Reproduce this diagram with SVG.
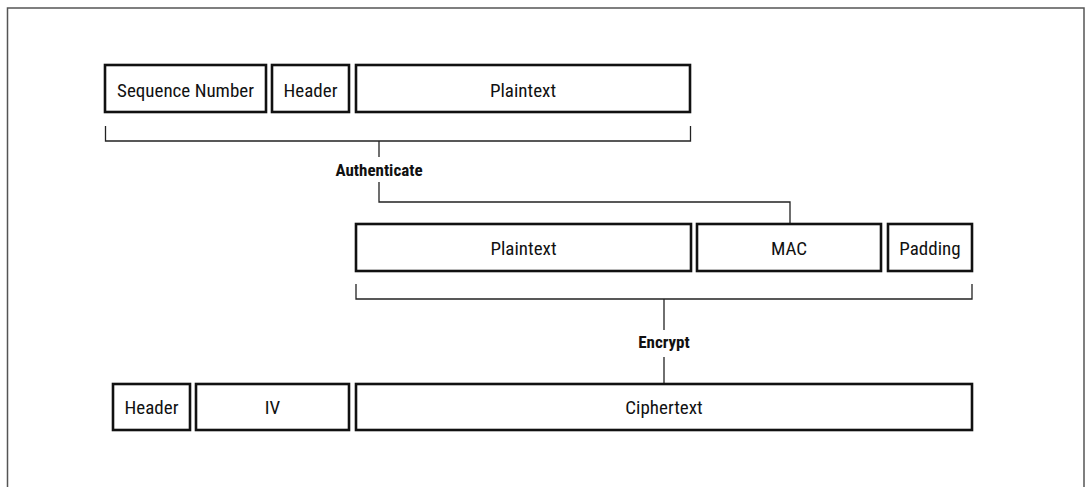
<svg xmlns="http://www.w3.org/2000/svg" width="1088" height="487" viewBox="0 0 1088 487">
<style>
.box{fill:#fff;stroke:#111;stroke-width:2.6}
.lbl{font-family:"Roboto Condensed","Liberation Sans Narrow","DejaVu Sans Condensed","Liberation Sans",sans-serif;font-stretch:condensed;font-size:19px;fill:#111;text-anchor:middle}
.op{font-family:"Roboto Condensed","Liberation Sans Narrow","DejaVu Sans Condensed","Liberation Sans",sans-serif;font-stretch:condensed;font-size:17px;font-weight:bold;fill:#111;text-anchor:middle}
.ln{fill:none;stroke:#222;stroke-width:1.3}
</style>
<rect width="1088" height="487" fill="#fff"/>
<path d="M7.5,487 V8 H1084 V487" fill="none" stroke="#555" stroke-width="1.5"/>
<g id="connectors">
<path class="ln" d="M105.5,126 V141 H690.5 V126"/>
<path class="ln" d="M379,141 V157"/>
<path class="ln" d="M379,182 V202 H790 V224"/>
<path class="ln" d="M356,284 V299 H972 V284"/>
<path class="ln" d="M664,299 V330"/>
<path class="ln" d="M664,357 V384"/>
</g>
<g id="seq"><rect class="box" x="105" y="65" width="161" height="47"/><text class="lbl" x="185.5" y="97">Sequence Number</text></g>
<g id="hdr1"><rect class="box" x="272" y="65" width="77" height="47"/><text class="lbl" x="310.5" y="97">Header</text></g>
<g id="pt1"><rect class="box" x="356" y="65" width="334" height="47"/><text class="lbl" x="523" y="97">Plaintext</text></g>
<g id="auth"><text class="op" x="379" y="176">Authenticate</text></g>
<g id="pt2"><rect class="box" x="356" y="224" width="335" height="47"/><text class="lbl" x="523.5" y="255">Plaintext</text></g>
<g id="mac"><rect class="box" x="697" y="224" width="184" height="47"/><text class="lbl" x="789" y="255">MAC</text></g>
<g id="pad"><rect class="box" x="888" y="224" width="84" height="47"/><text class="lbl" x="930" y="255">Padding</text></g>
<g id="enc"><text class="op" x="664" y="348">Encrypt</text></g>
<g id="hdr2"><rect class="box" x="113" y="384" width="77" height="46"/><text class="lbl" x="151.5" y="414">Header</text></g>
<g id="iv"><rect class="box" x="196" y="384" width="153" height="46"/><text class="lbl" x="272.5" y="414">IV</text></g>
<g id="ct"><rect class="box" x="356" y="384" width="616" height="46"/><text class="lbl" x="664" y="414">Ciphertext</text></g>
</svg>
